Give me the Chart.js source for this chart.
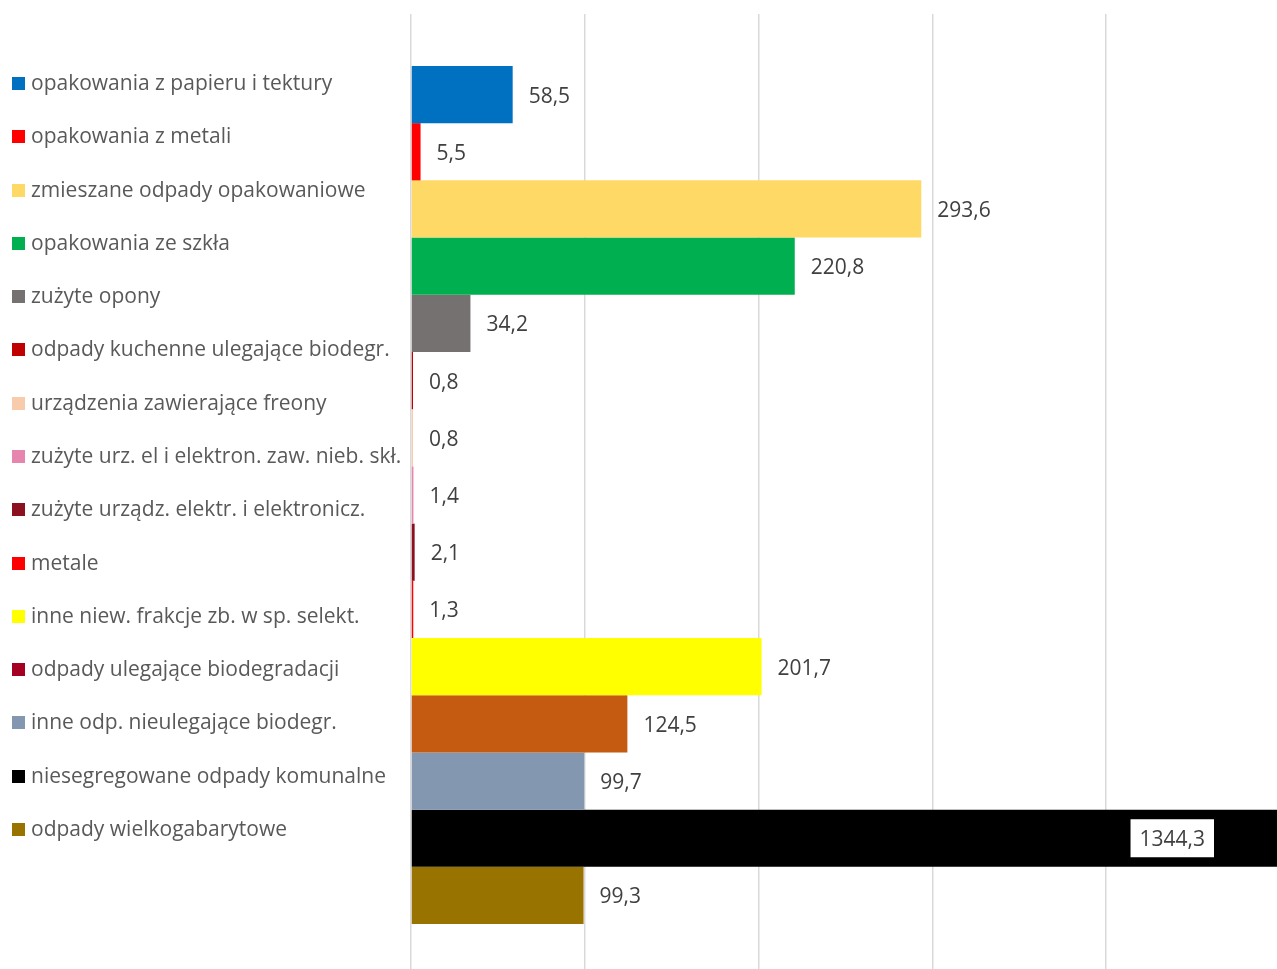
<!DOCTYPE html>
<html>
<head>
<meta charset="utf-8">
<script src="https://cdn.jsdelivr.net/npm/chart.js@4.4.0/dist/chart.umd.min.js"></script>
<style>
    html, body { margin: 0; padding: 0; background: #fff; overflow: hidden; }
    #wrap { position: relative; width: 1282px; height: 976px; }
    #barChart { position: absolute; left: 0; top: 0; }
    #legend { position: absolute; left: 0; top: 0; }
    .leg-item { position: absolute; left: 12px; height: 26px; line-height: 26px; white-space: nowrap;
        font-family: "Open Sans", sans-serif; font-size: 21px; color: #595959; }
    .leg-box { display: inline-block; width: 13px; height: 13px; margin-right: 6px; vertical-align: 0px; }
</style>
</head>
<body>
<div id="wrap">
    <canvas id="barChart" width="1282" height="976"></canvas>
    <div id="legend"></div>
</div>
<script>
// nazwy frakcji (legenda)
var categories = [
    'opakowania z papieru i tektury',
    'opakowania z metali',
    'zmieszane odpady opakowaniowe',
    'opakowania ze szkła',
    'zużyte opony',
    'odpady kuchenne ulegające biodegr.',
    'urządzenia zawierające freony',
    'zużyte urz. el i elektron. zaw. nieb. skł.',
    'zużyte urządz. elektr. i elektronicz.',
    'metale',
    'inne niew. frakcje zb. w sp. selekt.',
    'odpady ulegające biodegradacji',
    'inne odp. nieulegające biodegr.',
    'niesegregowane odpady komunalne',
    'odpady wielkogabarytowe'
];
// wartości słupków
var values = [58.5, 5.5, 293.6, 220.8, 34.2, 0.8, 0.8, 1.4, 2.1, 1.3, 201.7, 124.5, 99.7, 1344.3, 99.3];
// kolory słupków
var barColors = ['#0070C0', '#FF0000', '#FFD966', '#00B050', '#767171', '#C00000', '#F8CBAD', '#E685AE',
    '#8B1020', '#FF0000', '#FFFF00', '#C55A11', '#8497B0', '#000000', '#997300'];
// kolory w legendzie (jeden różni się od słupka)
var legendColors = ['#0070C0', '#FF0000', '#FFD966', '#00B050', '#767171', '#C00000', '#F8CBAD', '#E685AE',
    '#8B1020', '#FF0000', '#FFFF00', '#A50021', '#8497B0', '#000000', '#997300'];
// podziałka osi X
var xTicks = [0, 100, 200, 300, 400, 500];

// legenda html
var legend = document.getElementById('legend');
for (var i = 0; i < categories.length; i++) {
    var item = document.createElement('div');
    item.className = 'leg-item';
    item.style.top = (82 + i * 53.29 - 13) + 'px';
    item.innerHTML = '<span class="leg-box" style="background:' + legendColors[i] + '"></span>' + categories[i];
    legend.appendChild(item);
}

var datasets = [];
for (var j = 0; j < values.length; j++) {
    datasets.push({
        label: categories[j],
        data: [values[j]],
        backgroundColor: barColors[j],
        borderWidth: 0,
        minBarLength: 2,
        barPercentage: 1,
        categoryPercentage: 0.892
    });
}

// etykiety wartości
var valueLabels = {
    id: 'valueLabels',
    afterDatasetsDraw: function (chart) {
        var ctx = chart.ctx;
        var area = chart.chartArea;
        ctx.save();
        ctx.font = '21px "Open Sans", sans-serif';
        ctx.textBaseline = 'middle';
        chart.data.datasets.forEach(function (ds, k) {
            var bar = chart.getDatasetMeta(k).data[0];
            var txt = String(ds.data[0]).replace('.', ',');
            var w = ctx.measureText(txt).width;
            if (bar.x > area.right) {
                // słupek ucięty - etykieta w białym polu
                var bw = w + 18;
                var bx = area.right - 66 - bw;
                ctx.fillStyle = '#ffffff';
                ctx.fillRect(bx, bar.y - 19, bw, 38);
                ctx.fillStyle = '#404040';
                ctx.textAlign = 'left';
                ctx.fillText(txt, bx + 9, bar.y + 2);
            } else {
                ctx.fillStyle = '#404040';
                ctx.textAlign = 'left';
                ctx.fillText(txt, bar.x + 16, bar.y + 2);
            }
        });
        ctx.restore();
    }
};

var ctx = document.getElementById('barChart').getContext('2d');
var myBarChart = new Chart(ctx, {
    type: 'bar',
    data: {
        labels: [''],
        datasets: datasets
    },
    options: {
        indexAxis: 'y',
        responsive: false,
        animation: false,
        layout: { padding: { left: 411, right: 2, top: 14, bottom: 0 } },
        plugins: {
            legend: { display: false },
            tooltip: { enabled: false }
        },
        scales: {
            x: {
                min: xTicks[0],
                max: xTicks[xTicks.length - 1],
                afterBuildTicks: function (axis) {
                    axis.ticks = xTicks.map(function (v) { return { value: v }; });
                },
                ticks: { display: false },
                border: { display: false },
                grid: { color: '#D9D9D9', lineWidth: 1.5, drawTicks: false }
            },
            y: {
                display: false
            }
        }
    },
    plugins: [valueLabels]
});
</script>
</body>
</html>
